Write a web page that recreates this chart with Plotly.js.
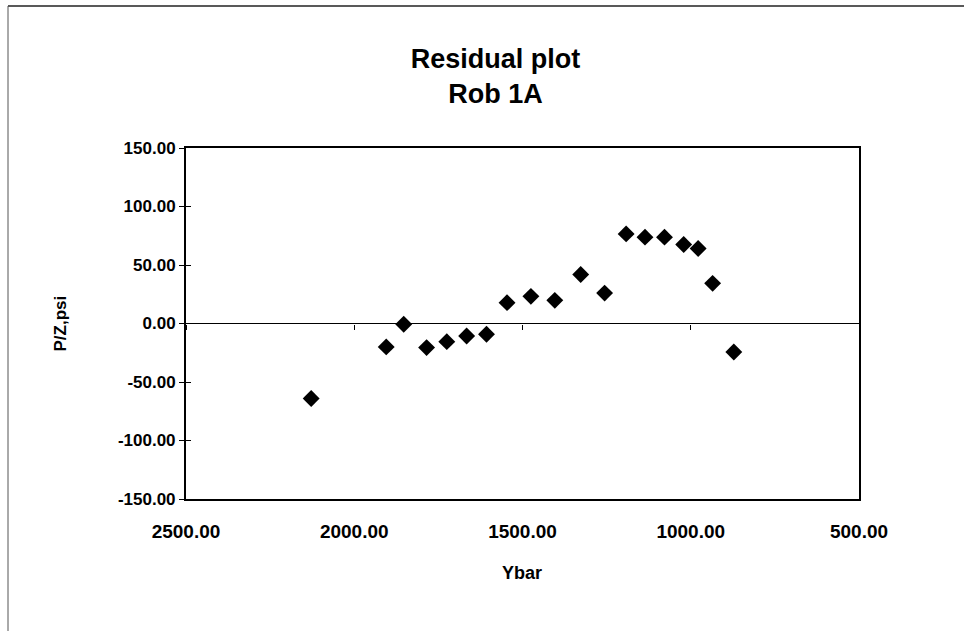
<!DOCTYPE html>
<html>
<head>
<meta charset="utf-8">
<script src="https://cdn.plot.ly/plotly-3.0.1.min.js"></script>
<style>
  html, body { margin: 0; padding: 0; background: #fff; }
  #chart { width: 964px; height: 631px; }
</style>
</head>
<body>
<div id="chart"></div>
<script>
// Data
const ybar = [2128, 1905, 1853, 1785, 1725, 1666, 1607, 1546, 1475, 1404, 1327, 1256, 1192, 1136, 1078, 1021, 978, 935, 872];
const residual = [-64.1, -20.0, -0.7, -20.6, -15.5, -10.7, -9.2, 17.8, 23.2, 19.8, 41.9, 26.0, 76.6, 73.8, 73.8, 67.5, 64.1, 34.3, -24.3];

const titleLines = ['Residual plot', 'Rob 1A'];
const xTitle = 'Ybar';
const yTitle = 'P/Z,psi';
const xRange = [2500, 500];
const yRange = [-150, 150];
const xTickVals = [2500, 2000, 1500, 1000, 500];
const xTickText = ['2500.00', '2000.00', '1500.00', '1000.00', '500.00'];
const yTickVals = [150, 100, 50, 0, -50, -100, -150];
const yTickText = ['150.00', '100.00', '50.00', '0.00', '-50.00', '-100.00', '-150.00'];

const FONT = 'Arial, "Liberation Sans", sans-serif';

const traces = [
  {
    x: ybar, y: residual, type: 'scatter', mode: 'markers',
    marker: { symbol: 'diamond', size: 13, color: '#000' },
    showlegend: false, hoverinfo: 'x+y'
  },
  { x: [], y: [], xaxis: 'x2', yaxis: 'y', type: 'scatter', mode: 'markers', showlegend: false },
  { x: [], y: [], xaxis: 'x', yaxis: 'y2', type: 'scatter', mode: 'markers', showlegend: false }
];

const layout = {
  width: 964, height: 631,
  margin: { l: 186, r: 105, t: 148, b: 132 },
  paper_bgcolor: '#fff', plot_bgcolor: '#fff',
  font: { family: FONT, color: '#000' },
  title: {
    text: titleLines.join('<br>'),
    font: { family: FONT, size: 27, weight: 'bold', color: '#000' },
    x: 0.46, xref: 'paper', xanchor: 'center',
    y: 1 - 68 / 631, yref: 'container', yanchor: 'top'
  },
  xaxis: {
    range: xRange, tickmode: 'array', tickvals: xTickVals, ticktext: xTickText,
    showgrid: false, zeroline: false,
    showline: true, linecolor: '#000', linewidth: 2, mirror: true,
    ticks: '', ticklabelstandoff: 14,
    tickfont: { family: FONT, size: 19, weight: 'bold', color: '#000' }
  },
  xaxis2: {
    overlaying: 'x', anchor: 'free', position: 0.5, side: 'bottom',
    range: xRange, tickmode: 'array', tickvals: xTickVals,
    showgrid: false, zeroline: false, showline: false, showticklabels: false,
    ticks: 'outside', ticklen: 5, tickwidth: 1, tickcolor: '#000'
  },
  yaxis: {
    range: yRange, tickmode: 'array', tickvals: yTickVals, ticktext: yTickText,
    showgrid: false, zeroline: true, zerolinecolor: '#000', zerolinewidth: 1.5,
    showline: true, linecolor: '#000', linewidth: 2, mirror: true,
    ticks: 'outside', ticklen: 5, tickwidth: 1, tickcolor: '#000',
    ticklabelstandoff: 0,
    tickfont: { family: FONT, size: 17, weight: 'bold', color: '#000' }
  },
  yaxis2: {
    overlaying: 'y', anchor: 'x', side: 'left',
    range: yRange, tickmode: 'array', tickvals: yTickVals,
    showgrid: false, zeroline: false, showline: false, showticklabels: false,
    ticks: 'inside', ticklen: 5, tickwidth: 1, tickcolor: '#000'
  },
  annotations: [
    {
      text: xTitle, xref: 'paper', yref: 'paper',
      x: (522 - 186) / 673, y: (499 - 573) / 351, xanchor: 'center', yanchor: 'middle',
      showarrow: false, font: { family: FONT, size: 18, weight: 'bold', color: '#000' }
    },
    {
      text: yTitle, xref: 'paper', yref: 'paper', textangle: -90,
      x: (60 - 186) / 673, y: 0.5, xanchor: 'center', yanchor: 'middle',
      showarrow: false, font: { family: FONT, size: 17, weight: 'bold', color: '#000' }
    }
  ],
  shapes: [
    { type: 'line', xref: 'paper', yref: 'paper',
      x0: (8 - 186) / 673, x1: (964 - 186) / 673, y0: (499 - 6) / 351, y1: (499 - 6) / 351,
      line: { color: '#222', width: 1.5 } },
    { type: 'line', xref: 'paper', yref: 'paper',
      x0: (8 - 186) / 673, x1: (8 - 186) / 673, y0: (499 - 6) / 351, y1: (499 - 631) / 351,
      line: { color: '#555', width: 1 } }
  ]
};

Plotly.newPlot('chart', traces, layout, { displayModeBar: false, staticPlot: true });
</script>
</body>
</html>
